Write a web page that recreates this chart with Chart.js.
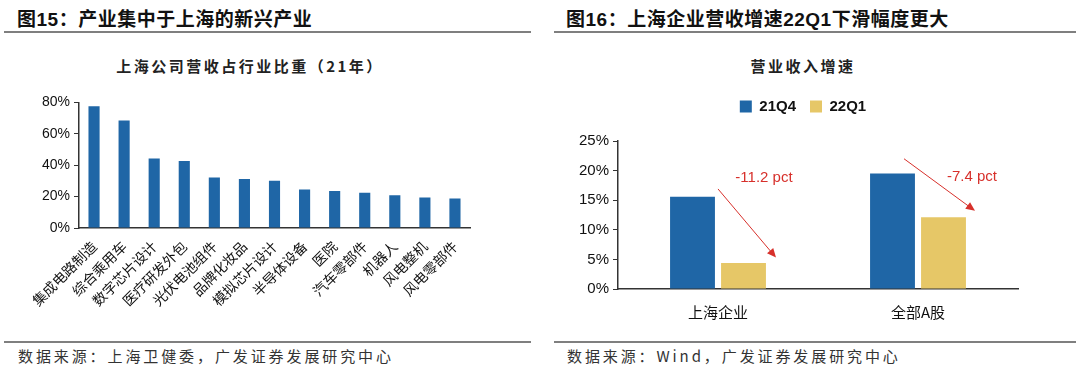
<!DOCTYPE html>
<html>
<head>
<meta charset="utf-8">
<script src="https://cdn.jsdelivr.net/npm/chart.js@4.4.0/dist/chart.umd.min.js"></script>
<style>
  html, body { margin: 0; padding: 0; background: #fff; }
  body { width: 1080px; height: 383px; position: relative; overflow: hidden;
         font-family: "Noto Sans CJK SC", "Liberation Sans", sans-serif; }
  .fig-title { position: absolute; top: 4px; font-size: 19px; letter-spacing: 0.5px; font-weight: bold; color: #111; white-space: nowrap; }
  .fig-title b { font-family: "Liberation Sans", Arial, sans-serif; }
  .rule { position: absolute; height: 2px; background: #7f7f7f; }
  .sub { position: absolute; top: 55px; font-size: 15px; letter-spacing: 2.5px; font-weight: bold; color: #222; text-align: center; white-space: nowrap; }
  .src { position: absolute; top: 345px; font-size: 15px; letter-spacing: 2.9px; color: #333; white-space: nowrap; }
  .cv { position: absolute; }
</style>
</head>
<body>
<div class="fig-title" style="left:17px">图<b>15</b>：产业集中于上海的新兴产业</div>
<div class="rule" style="left:4px; width:527px; top:31px"></div>
<div class="sub" style="left:100px; width:300px">上海公司营收占行业比重（21年）</div>

<div class="fig-title" style="left:566px">图<b>16</b>：上海企业营收增速<b>22Q1</b>下滑幅度更大</div>
<div class="rule" style="left:554px; width:522px; top:31px"></div>
<div class="sub" style="left:703px; width:200px">营业收入增速</div>

<div class="cv" style="left:0; top:90px; width:540px; height:240px"><canvas id="shareChart"></canvas></div>
<div class="cv" style="left:540px; top:85px; width:540px; height:240px"><canvas id="growthChart"></canvas></div>

<div class="rule" style="left:4px; width:527px; top:341px; height:1.5px"></div>
<div class="rule" style="left:554px; width:522px; top:341px; height:1.5px"></div>
<div class="src" style="left:18px">数据来源：上海卫健委，广发证券发展研究中心</div>
<div class="src" style="left:567px">数据来源：Wind，广发证券发展研究中心</div>

<script>
/* ── 数据 ─────────────────────────────────────── */
const industries = ['集成电路制造', '综合乘用车', '数字芯片设计', '医疗研发外包', '光伏电池组件',
                    '品牌化妆品', '模拟芯片设计', '半导体设备', '医院', '汽车零部件',
                    '机器人', '风电整机', '风电零部件'];
const shShare = [77.5, 68.5, 44.2, 42.6, 32.2, 31.2, 30.1, 24.6, 23.5, 22.4, 20.8, 19.4, 18.8];
const shareTicks = [0, 20, 40, 60, 80];

const groups = ['上海企业', '全部A股'];
const seriesNames = ['21Q4', '22Q1'];
const growth21Q4 = [15.6, 19.5];
const growth22Q1 = [4.4, 12.1];
const growthTicks = [0, 5, 10, 15, 20, 25];

// 下滑标注：箭头起止点 / 文字位置（类目索引, 百分比）
const dropLabels = ['-11.2 pct', '-7.4 pct'];
const dropArrows = [[0.0, 16.9, 0.29, 5.3], [0.93, 22.0, 1.285, 13.2]];
const dropTextPos = [[0.23, 18.8], [1.27, 18.9]];

const BLUE = '#1f66a6';
const GOLD = '#e6c767';
const AXIS = '#333333';
const RED = '#d7302b';
const NUM_FONT = '"Liberation Sans", Arial, sans-serif';
const CJK_FONT = '"Noto Sans CJK SC", sans-serif';

Chart.defaults.animation = false;
Chart.defaults.color = '#111';

function fixSize(w, h) {
    return (scale) => {
        if (w != null) scale.width = w;
        if (h != null) scale.height = h;
    };
}

/* ── 图15 ─────────────────────────────────────── */
new Chart(document.getElementById('shareChart'), {
    type: 'bar',
    data: {
        labels: industries,
        datasets: [{
            data: shShare,
            backgroundColor: BLUE,
            barPercentage: 0.37,
            categoryPercentage: 1.0
        }]
    },
    options: {
        responsive: true, maintainAspectRatio: false,
        layout: { padding: { top: 10, right: 70, bottom: 0, left: 0 } },
        plugins: { legend: { display: false }, tooltip: { enabled: false } },
        scales: {
            y: {
                min: 0, max: 80,
                afterFit: fixSize(79, null),
                afterBuildTicks: (s) => { s.ticks = shareTicks.map(v => ({ value: v })); },
                ticks: { callback: v => v + '%', font: { size: 14, family: NUM_FONT }, color: '#111', padding: 4 },
                grid: { drawOnChartArea: false, tickLength: 5, color: AXIS },
                border: { color: AXIS, width: 1.5 }
            },
            x: {
                afterFit: fixSize(null, 102),
                ticks: { minRotation: 45, maxRotation: 45, autoSkip: false,
                         font: { size: 14, family: CJK_FONT }, color: '#111', padding: 2 },
                grid: { display: false },
                border: { color: AXIS, width: 1.5 }
            }
        }
    }
});

/* ── 图16 ─────────────────────────────────────── */
// 图例：下方留白加大，整体右移
const legendTweak = {
    id: 'legendTweak',
    beforeInit(chart) {
        const lg = chart.legend;
        if (!lg) return;
        const fit = lg.fit, draw = lg.draw;
        lg.fit = function () { fit.call(this); this.height += 17; };
        lg.draw = function () {
            const ctx = this.ctx;
            ctx.save();
            ctx.translate(24, 0);
            draw.call(this);
            ctx.restore();
        };
    }
};

const dropNotes = {
    id: 'dropNotes',
    afterDatasetsDraw(chart) {
        const { ctx, scales: { x, y } } = chart;
        ctx.save();
        ctx.strokeStyle = RED;
        ctx.fillStyle = RED;
        ctx.lineWidth = 1;
        dropArrows.forEach(([x0, y0, x1, y1]) => {
            const px0 = x.getPixelForValue(x0), py0 = y.getPixelForValue(y0);
            const px1 = x.getPixelForValue(x1), py1 = y.getPixelForValue(y1);
            const ang = Math.atan2(py1 - py0, px1 - px0);
            const head = 10;
            ctx.beginPath();
            ctx.moveTo(px0, py0);
            ctx.lineTo(px1 - Math.cos(ang) * head * 0.8, py1 - Math.sin(ang) * head * 0.8);
            ctx.stroke();
            ctx.beginPath();
            ctx.moveTo(px1, py1);
            ctx.lineTo(px1 - head * Math.cos(ang - 0.42), py1 - head * Math.sin(ang - 0.42));
            ctx.lineTo(px1 - head * Math.cos(ang + 0.42), py1 - head * Math.sin(ang + 0.42));
            ctx.closePath();
            ctx.fill();
        });
        ctx.font = '15px ' + NUM_FONT;
        ctx.textAlign = 'center';
        ctx.textBaseline = 'middle';
        dropLabels.forEach((t, i) => {
            ctx.fillText(t, x.getPixelForValue(dropTextPos[i][0]), y.getPixelForValue(dropTextPos[i][1]));
        });
        ctx.restore();
    }
};

new Chart(document.getElementById('growthChart'), {
    type: 'bar',
    data: {
        labels: groups,
        datasets: [
            { label: seriesNames[0], data: growth21Q4, backgroundColor: BLUE },
            { label: seriesNames[1], data: growth22Q1, backgroundColor: GOLD }
        ]
    },
    options: {
        responsive: true, maintainAspectRatio: false,
        datasets: { bar: { barPercentage: 0.88, categoryPercentage: 0.51 } },
        layout: { padding: { top: 0, right: 62, bottom: 0, left: 0 } },
        plugins: {
            legend: {
                position: 'top',
                labels: { boxWidth: 12, boxHeight: 12, padding: 14,
                          font: { size: 15, weight: 'bold', family: NUM_FONT }, color: '#111' }
            },
            tooltip: { enabled: false }
        },
        scales: {
            y: {
                min: 0, max: 25,
                afterFit: fixSize(78, null),
                afterBuildTicks: (s) => { s.ticks = growthTicks.map(v => ({ value: v })); },
                ticks: { callback: v => v + '%', font: { size: 15, family: NUM_FONT }, color: '#111', padding: 4 },
                grid: { drawOnChartArea: false, tickLength: 5, color: AXIS },
                border: { color: AXIS, width: 1.5 }
            },
            x: {
                afterFit: fixSize(null, 36),
                ticks: { font: { size: 15, family: CJK_FONT }, color: '#111', padding: 6 },
                grid: { display: false },
                border: { color: AXIS, width: 1.5 }
            }
        }
    },
    plugins: [legendTweak, dropNotes]
});
</script>
</body>
</html>
